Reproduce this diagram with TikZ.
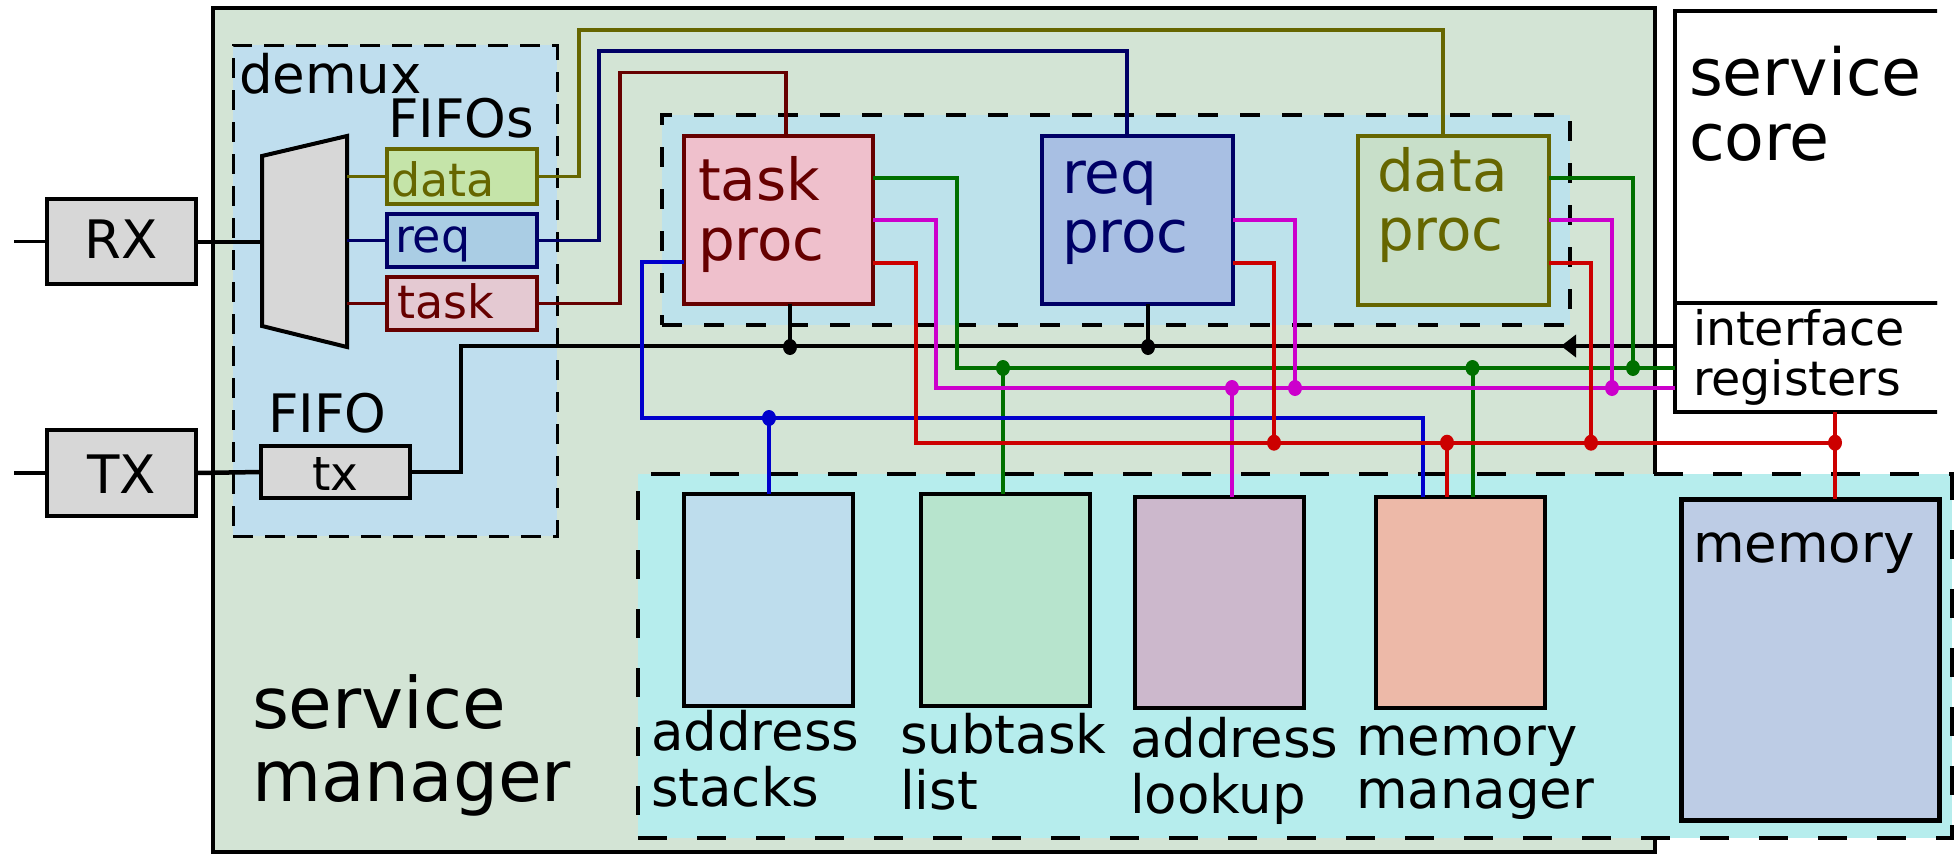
\documentclass[tikz,border=0pt]{standalone}
\usepackage{fontspec}
\setmainfont{DejaVu Sans}
\usetikzlibrary{fit,arrows.meta,shapes.geometric}

% fills
\definecolor{smfill}{HTML}{D3E4D5}
\definecolor{demuxfill}{HTML}{BFDEEE}
\definecolor{procfill}{HTML}{BDE2EB}
\definecolor{lowfill}{HTML}{B6EDED}
\definecolor{grayfill}{HTML}{D7D7D7}
\definecolor{dfifofill}{HTML}{C5E4A9}
\definecolor{rfifofill}{HTML}{AACDE4}
\definecolor{tfifofill}{HTML}{E4C9D2}
\definecolor{tpfill}{HTML}{EFC0CC}
\definecolor{rpfill}{HTML}{A8BFE3}
\definecolor{dpfill}{HTML}{C8DFC9}
\definecolor{asfill}{HTML}{BEDDED}
\definecolor{slfill}{HTML}{B7E4CD}
\definecolor{alfill}{HTML}{CCB8CC}
\definecolor{mmfill}{HTML}{EDB9A8}
\definecolor{memfill}{HTML}{BDCCE5}
% strokes
\definecolor{olivec}{HTML}{666600}
\definecolor{navyc}{HTML}{000066}
\definecolor{maroonc}{HTML}{660000}
\definecolor{wgreen}{HTML}{007000}
\definecolor{wmag}{HTML}{CC00CC}
\definecolor{wred}{HTML}{CC0000}
\definecolor{wblue}{HTML}{0000CC}

\newcommand\fsz[2]{\fontsize{#1}{#2}\selectfont}
\newcommand\twolines[2]{\begin{tabular}[t]{@{}l@{}}#1\\#2\end{tabular}}

\begin{document}
\begin{tikzpicture}[x=1pt, y=-1pt, inner sep=0pt, outer sep=0pt,
  blk/.style={draw=black, line width=4pt, fill=#1},
  colbox/.style 2 args={draw=#1, fill=#2, line width=4pt},
  region/.style 2 args={fill=#1, draw=black, dash pattern=#2},
  wire/.style={draw=#1, line width=4pt},
  thinwire/.style={draw=#1, line width=3.5pt},
  jdot/.style={ellipse, fill=#1, minimum width=14pt, minimum height=16pt},
  lbl/.style={anchor=base west, font=\fsz{53}{53}},
  small/.style={anchor=base west, font=\fsz{46}{47}}]
\useasboundingbox (0,0) rectangle (1959,854);

% ---- enclosing blocks ----
\node[fit={(213,8) (1655,852)}, blk=smfill, line width=4.5pt] (sm) {};
\begin{scope}
  \clip (1660,0) rectangle (1937,430);
  \node[fit={(1675,11) (1990,303)}, blk=white, line width=4.5pt] (sc) {};
  \node[fit={(1675,303) (1990,412)}, blk=white, line width=4.5pt] (ir) {};
\end{scope}
\node[fit={(233,45) (557,536)}, region={demuxfill}{on 20pt off 12pt}, line width=3pt] (demux) {};
\node[fit={(662,115) (1570,325)}, region={procfill}{on 20pt off 22pt}, line width=4pt] (procs) {};
\node[fit={(638,474) (1952,838)}, region={lowfill}{on 29pt off 30pt}, line width=4.5pt] (low) {};

% ---- link interfaces ----
\node[fit={(47,199) (196,284)}, blk=grayfill] (rx) {};
\node[fit={(47,430) (196,516)}, blk=grayfill] (tx) {};
\coordinate (rxin) at (14,241.5);
\coordinate (txin) at (14,473);
\draw[line width=3.5pt] (rxin) -- (rx.west);
\draw[line width=3.5pt] (txin) -- (tx.west);

% demultiplexer
\coordinate (muxL) at (262,241.5);
\coordinate (muxR) at (347,241.5);
\draw[blk=grayfill, line join=miter] (262,156) -- (347,136) -- (347,347) -- (262,326) -- cycle;
\draw[line width=4pt] (rx.east) -- (muxL);

% FIFOs
\node[fit={(387,149) (537,204)}, colbox={olivec}{dfifofill}] (dfifo) {};
\node[fit={(387,214) (537,267)}, colbox={navyc}{rfifofill}] (rfifo) {};
\node[fit={(387,277) (537,330)}, colbox={maroonc}{tfifofill}] (tfifo) {};
\node[fit={(261,446) (410,498)}, blk=grayfill] (txf) {};
\draw[line width=4.5pt] (tx.east) -- (txf.west);

\draw[thinwire=olivec] (muxR |- dfifo.west) -- (dfifo.west);
\draw[thinwire=navyc] (muxR |- rfifo.west) -- (rfifo.west);
\draw[thinwire=maroonc] (muxR |- tfifo.west) -- (tfifo.west);

% processors
\node[fit={(684,136) (873,304)}, colbox={maroonc}{tpfill}] (tp) {};
\node[fit={(1042,136) (1233,304)}, colbox={navyc}{rpfill}] (rp) {};
\node[fit={(1358,136) (1549,305)}, colbox={olivec}{dpfill}] (dp) {};

% FIFO to processor feeds
\draw[thinwire=olivec] (dfifo.east) -| (579,30) -| (1443,0 |- dp.north);
\draw[thinwire=navyc] (rfifo.east) -| (599,51) -| (1127,0 |- rp.north);
\draw[thinwire=maroonc] (tfifo.east) -| (620,72.7) -| (786,0 |- tp.north);

% storage blocks
\node[fit={(684,494) (853,706)}, blk=asfill] (as) {};
\node[fit={(921,494) (1090,706)}, blk=slfill] (sl) {};
\node[fit={(1135,497) (1304,708)}, blk=alfill] (al) {};
\node[fit={(1376,497) (1545,708)}, blk=mmfill] (mm) {};
\node[fit={(1681,499) (1939,820)}, blk=memfill, line width=5pt] (mem) {};

% ---- buses ----
\coordinate (busL) at (461,346);
\coordinate (busTip) at (1561,346);
\coordinate (gbus) at (957,368);
\coordinate (mbus) at (936,388);
\coordinate (bbus) at (641.5,418);
\coordinate (rbus) at (915.6,442.7);

% response bus back to tx FIFO
\draw[line width=4.5pt] (txf.east) -| (busL) -- (busL -| ir.west);
\draw[line width=4.5pt, -{Triangle[length=15pt,width=22pt]}] (busL -| ir.west) -- (busTip);
\draw[line width=3.5pt] (790,0 |- tp.south) -- (790,347);
\draw[line width=3.5pt] (1148,0 |- rp.south) -- (1148,347);

% green bus
\draw[wire=wgreen] (tp.east |- 0,177.7) -| (gbus) -- (gbus -| ir.west);
\draw[wire=wgreen] (dp.east |- 0,177.7) -| (1633,368);
\draw[wire=wgreen] (1003,368) -- (1003,0 |- sl.north);
\draw[wire=wgreen] (1472.5,368) -- (1472.5,0 |- mm.north);

% magenta bus
\draw[wire=wmag] (tp.east |- 0,220) -| (mbus) -- (mbus -| ir.west);
\draw[wire=wmag] (rp.east |- 0,220) -| (1295,388);
\draw[wire=wmag] (dp.east |- 0,220) -| (1612,388);
\draw[wire=wmag] (1232,388) -- (1232,0 |- al.north);

% blue bus
\draw[wire=wblue] (tp.west |- 0,261.7) -| (bbus) -| (1423,0 |- mm.north);
\draw[wire=wblue] (769,418) -- (769,0 |- as.north);

% red bus
\draw[wire=wred] (tp.east |- 0,262.7) -| (rbus) -- (1835,442.7);
\draw[wire=wred] (rp.east |- 0,262.7) -| (1274,442.7);
\draw[wire=wred] (dp.east |- 0,262.7) -| (1591,442.7);
\draw[wire=wred] (1447,442.7) -- (1447,0 |- mm.north);
\draw[wire=wred] (1835,0 |- ir.south) -- (1835,0 |- mem.north);

% junctions
\node[jdot=black] (j1) at (790,347) {};
\node[jdot=black] (j2) at (1148,347) {};
\node[jdot=wgreen] (j3) at (1003,368) {};
\node[jdot=wgreen] (j4) at (1472.5,368) {};
\node[jdot=wgreen] (j5) at (1633,368) {};
\node[jdot=wmag] (j6) at (1232,388) {};
\node[jdot=wmag] (j7) at (1295,388) {};
\node[jdot=wmag] (j8) at (1612,388) {};
\node[jdot=wblue] (j9) at (769,418) {};
\node[jdot=wred] (j10) at (1274,442.7) {};
\node[jdot=wred] (j11) at (1447,442.7) {};
\node[jdot=wred] (j12) at (1591,442.7) {};
\node[jdot=wred] (j13) at (1835,442.7) {};

% ---- text ----
\node[anchor=base, font=\fsz{53}{53}] (rxt) at (rx.center |- 0,258) {RX};
\node[anchor=base, font=\fsz{53}{53}] (txt) at (tx.center |- 0,493) {TX};
\node[lbl] (demuxt) at (239,93.6) {demux};
\node[lbl] (fifost) at (388,137) {FIFOs};
\node[lbl] (fifot) at (268,432) {FIFO};
\node[anchor=base, font=\fsz{47}{47}] (txft) at (txf.center |- 0,490) {tx};
\node[small, text=olivec] (dft) at (391,196) {data};
\node[small, text=navyc] (rft) at (395,252) {req};
\node[small, text=maroonc] (tft) at (397,318) {task};

\node[anchor=base west, font=\fsz{58}{60}, text=maroonc] (tpt) at (698,200) {\twolines{task}{proc}};
\node[anchor=base west, font=\fsz{58}{59}, text=navyc] (rpt) at (1062,193) {\twolines{req}{proc}};
\node[anchor=base west, font=\fsz{58}{59}, text=olivec] (dpt) at (1377,191) {\twolines{data}{proc}};

\node[anchor=base west, font=\fsz{65}{65}] (sct) at (1689,95) {\twolines{service}{core}};
\node[anchor=base west, font=\fsz{47.5}{47}] (irt) at (1693,345) {\twolines{interface}{registers}};
\node[anchor=base west, font=\fsz{71}{73}] (smt) at (252,728) {\twolines{service}{manager}};

\node[lbl] (ast) at (651,750) {\twolines{address}{stacks}};
\node[lbl] (slt) at (900,753) {\twolines{subtask}{list}};
\node[lbl] (alt) at (1130,757) {\twolines{address}{lookup}};
\node[lbl] (mmt) at (1356,755) {\twolines{memory}{manager}};
\node[lbl] (memt) at (1693,562) {memory};
\end{tikzpicture}
\end{document}
